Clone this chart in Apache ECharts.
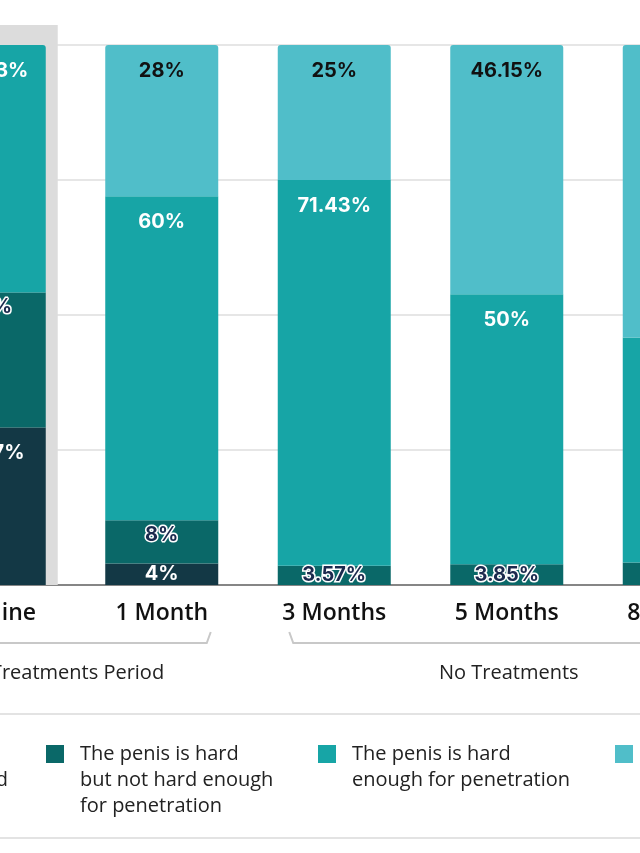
<!DOCTYPE html>
<html><head><meta charset="utf-8">
<script src="https://cdn.jsdelivr.net/npm/echarts@6/dist/echarts.min.js"></script>
<style>html,body{margin:0;padding:0;background:#fff;overflow:hidden}#c{width:640px;height:853px}</style>
</head><body><div id="c"></div>
<script>
// ---- data ----
const categories = ['Baseline', '1 Month', '3 Months', '5 Months', '8 Months'];
const seriesNames = [
  'The penis is larger but it is still not hard',
  'The penis is hard but not hard enough for penetration',
  'The penis is hard enough for penetration',
  'The penis is completely hard and fully rigid'
];
const legendLines = [
  ['The penis is larger', 'but it is still not hard'],
  ['The penis is hard', 'but not hard enough', 'for penetration'],
  ['The penis is hard', 'enough for penetration'],
  ['The penis is completely', 'hard and fully rigid']
];
const notHard        = [29.17, 4, 0, 0, 0];
const hardNotEnough  = [25, 8, 3.57, 3.85, 4.17];
const hardEnough     = [45.83, 60, 71.43, 50, 41.67];
const fullyRigid     = [0, 28, 25, 46.15, 54.17];
const yTicks = [0, 25, 50, 75, 100];
const groups = [
  { name: 'Treatments Period', from: 'Baseline', to: '1 Month' },
  { name: 'No Treatments', from: '3 Months', to: '8 Months' }
];
const highlighted = 'Baseline';

// ---- styles ----
const colors = ['#133845', '#0a6868', '#17a5a6', '#50bec9'];
const labelFont = 'Inter';
const textFont = 'Open Sans';
const labelStyles = [
  { color: '#ffffff', position: 'insideTop', distance: 16, small: 10 },
  { color: '#1b2a4e', position: 'insideTop', distance: 5, small: 6, textBorderColor: '#ffffff', textBorderWidth: 3 },
  { color: '#ffffff', position: 'insideTop', distance: 16, small: 6 },
  { color: '#111111', position: 'insideTop', distance: 16, small: 6 }
];

const allSeries = [notHard, hardNotEnough, hardEnough, fullyRigid];
const topIndex = categories.map((c, ci) => {
  let t = 0;
  allSeries.forEach((arr, si) => { if (arr[ci] > 0) t = si; });
  return t;
});

const chart = echarts.init(document.getElementById('c'), null, { renderer: 'canvas' });

const stackSeries = allSeries.map((arr, si) => {
  const ls = labelStyles[si];
  return {
    name: seriesNames[si],
    type: 'bar',
    stack: 'total',
    barWidth: 113,
    z: 3,
    itemStyle: { color: colors[si] },
    label: {
      show: true,
      position: ls.position,
      distance: ls.distance,
      color: ls.color,
      fontFamily: labelFont,
      fontWeight: 'bold',
      fontSize: 20,
      textBorderColor: ls.textBorderColor || 'transparent',
      textBorderWidth: ls.textBorderWidth || 0,
      formatter: p => (p.value ? p.value + '%' : '')
    },
    data: arr.map((v, ci) => {
      const item = { value: v };
      if (topIndex[ci] === si) item.itemStyle = { borderRadius: [3, 3, 0, 0] };
      if (v > 0 && v < ls.small) item.label = { position: 'inside' };
      return item;
    })
  };
});

const highlightSeries = {
  type: 'bar',
  xAxisIndex: 1,
  barWidth: 137,
  z: 1,
  silent: true,
  clip: false,
  itemStyle: { color: '#dcdcdc' },
  data: categories.map(c => (c === highlighted ? 103.7 : null))
};

// legend icon: an 18x18 square at the top-left of a 29x70 box, so the text sits right of it
const legendIcon = 'path://M0,0H18V18H0Z M29,70L29,70';
const legendPos = [{ right: 632 }, { left: 46 }, { left: 318 }, { left: 615 }];

const option = {
  animation: false,
  backgroundColor: '#ffffff',
  grid: { left: -97, top: 45, width: 862.5, height: 540, outerBoundsMode: 'none' },
  xAxis: [
    {
      type: 'category', data: categories,
      axisTick: { show: false },
      axisLine: { lineStyle: { color: '#666666', width: 1.5 } },
      axisLabel: { interval: 0, margin: 17, fontSize: 23, fontWeight: 600, color: '#111111', fontFamily: textFont }
    },
    { type: 'category', data: categories, show: false }
  ],
  yAxis: {
    type: 'value', min: yTicks[0], max: yTicks[yTicks.length - 1], interval: yTicks[1] - yTicks[0],
    axisLabel: { show: false }, axisLine: { show: false }, axisTick: { show: false },
    splitLine: { lineStyle: { color: '#dedede', width: 1.5 } }
  },
  legend: seriesNames.map((n, i) => Object.assign({
    data: [n],
    top: 741,
    padding: 0,
    itemWidth: 29, itemHeight: 70, itemGap: 0,
    icon: legendIcon,
    selectedMode: false,
    formatter: () => {
      const lines = legendLines[i].slice();
      while (lines.length < 3) lines.push(' ');
      return lines.join('\n');
    },
    textStyle: { fontSize: 20, lineHeight: 26, color: '#222222', fontFamily: textFont }
  }, legendPos[i])),
  series: [highlightSeries].concat(stackSeries)
};

chart.setOption(option);

// group brackets built from the axis scale
const px = c => chart.convertToPixel({ xAxisIndex: 0 }, c);
const graphics = [];
const bracketTop = 632, bracketY = 643;
groups.forEach(g => {
  const x1 = px(g.from) - 45;
  const x2 = px(g.to) + 49;
  graphics.push({
    type: 'polyline', silent: true,
    shape: { points: [[x1, bracketTop], [x1 + 4, bracketY], [x2 - 4, bracketY], [x2, bracketTop]] },
    style: { stroke: '#c8c8c8', lineWidth: 2, fill: null }
  });
  graphics.push({
    type: 'text', silent: true, x: (x1 + x2) / 2, y: 673,
    style: { text: g.name, fill: '#222222', fontSize: 20, fontFamily: textFont, align: 'center', verticalAlign: 'middle' }
  });
});
[714, 838].forEach(y => graphics.push({
  type: 'line', silent: true,
  shape: { x1: 0, y1: y, x2: 640, y2: y },
  style: { stroke: '#dadada', lineWidth: 1.5 }
}));
chart.setOption({ graphic: graphics });
</script>
</body></html>
